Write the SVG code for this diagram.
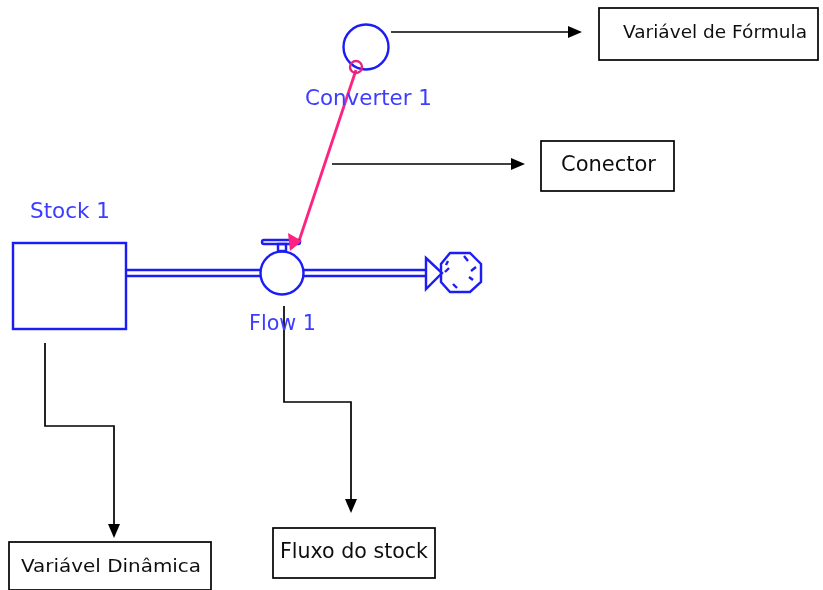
<svg xmlns="http://www.w3.org/2000/svg" width="823" height="590" viewBox="0 0 823 590">
<defs><filter id="soft" x="0" y="0" width="823" height="590" filterUnits="userSpaceOnUse" primitiveUnits="userSpaceOnUse"><feGaussianBlur stdDeviation="0.45"/></filter></defs>
<style>
.blue{fill:none;stroke:#1c1cf5;stroke-width:2.4}
.lbl{font-family:"DejaVu Sans",Verdana,sans-serif;font-size:20.5px;fill:#3c3cff}
.box{fill:#fff;stroke:#000;stroke-width:1.7}
.txt{font-family:"DejaVu Sans",Verdana,sans-serif;font-size:18.5px;fill:#111}
.big{font-size:20.5px}
.ln{fill:none;stroke:#000;stroke-width:1.7}
.head{fill:#000;stroke:none}
</style>
<rect width="823" height="590" fill="#fff"/>
<g filter="url(#soft)">
<g id="connectors">
<path class="ln" d="M391 32H570"/><polygon class="head" points="582,32 568,26 568,38"/>
<path class="ln" d="M332 164H514"/><polygon class="head" points="525,164 511,158 511,170"/>
<path class="ln" d="M45 343V426H114V526"/><polygon class="head" points="114,538 108,524 120,524"/>
<path class="ln" d="M284 306V402H351V501"/><polygon class="head" points="351,513 345,499 357,499"/>
<path d="M126 270H260M126 276H260M304 270H426M304 276H426" fill="none" stroke="#1c1cf5" stroke-width="2.4"/>
<path d="M356 70L298 244" fill="none" stroke="#ff2080" stroke-width="2.8"/>
</g>
<g id="stock1">
<rect class="blue" x="13" y="243" width="113" height="86"/>
<text class="lbl" x="30" y="218" textLength="80" lengthAdjust="spacingAndGlyphs">Stock 1</text>
</g>
<g id="flow1">
<circle class="blue" cx="282" cy="273" r="21.5"/>
<rect class="blue" x="278" y="244" width="8" height="7"/>
<rect class="blue" x="262" y="240" width="38" height="4" rx="2"/>
<polygon points="302,241 288,233 290,251" fill="#ff2080"/>
<text class="lbl" x="249" y="330" textLength="67" lengthAdjust="spacingAndGlyphs">Flow 1</text>
</g>
<g id="sink">
<polygon class="blue" points="426,258 442,273 426,289"/>
<polygon class="blue" points="450,253 470,253 481,264 481,282 470,292 450,292 441,282 441,264"/>
<path class="blue" d="M464 256L468 261M476 267L471 271M473 280L469 277M457 288L453 284M445 272L449 268M448 261L446 265"/>
</g>
<g id="converter1">
<circle class="blue" cx="366" cy="47" r="22.5"/>
<circle cx="356" cy="67" r="6" fill="none" stroke="#e8207a" stroke-width="2.4"/>
<text class="lbl" x="305" y="105" textLength="127" lengthAdjust="spacingAndGlyphs">Converter 1</text>
</g>
<g id="box-formula">
<rect class="box" x="599" y="8" width="219" height="52"/>
<text class="txt" x="623" y="38" textLength="184" lengthAdjust="spacingAndGlyphs">Variável de Fórmula</text>
</g>
<g id="box-conector">
<rect class="box" x="541" y="141" width="133" height="50"/>
<text class="txt big" x="561" y="171" textLength="95" lengthAdjust="spacingAndGlyphs">Conector</text>
</g>
<g id="box-dinamica">
<rect class="box" x="9" y="542" width="202" height="48"/>
<text class="txt" x="21" y="572" textLength="180" lengthAdjust="spacingAndGlyphs">Variável Dinâmica</text>
</g>
<g id="box-fluxo">
<rect class="box" x="273" y="528" width="162" height="50"/>
<text class="txt big" x="280" y="558" textLength="148" lengthAdjust="spacingAndGlyphs">Fluxo do stock</text>
</g>
</g>
</svg>
